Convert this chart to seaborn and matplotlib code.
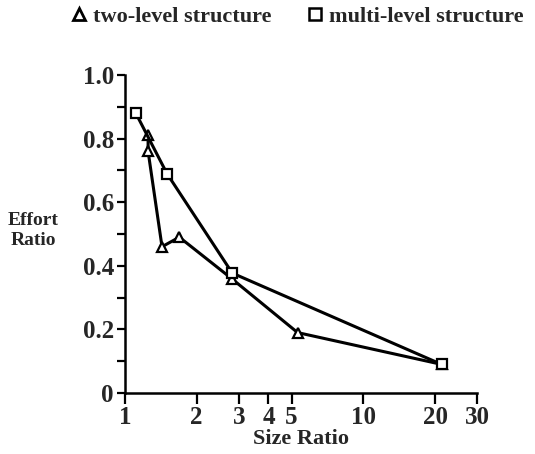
import matplotlib
matplotlib.use("Agg")
import matplotlib.pyplot as plt
from matplotlib.lines import Line2D
from matplotlib.ticker import FixedLocator, FixedFormatter, NullFormatter, MultipleLocator
import seaborn as sns
import pandas as pd

# Data
two_level_x = [1.25, 1.25, 1.43, 1.69, 2.80, 5.3, 21.3]
two_level_y = [0.81, 0.76, 0.46, 0.49, 0.36, 0.19, 0.09]
multi_level_x = [1.11, 1.50, 2.82, 21.3]
multi_level_y = [0.88, 0.69, 0.377, 0.09]
series_names = ["two-level structure", "multi-level structure"]
x_ticks = [1, 2, 3, 4, 5, 10, 20, 30]
y_ticks = [0, 0.2, 0.4, 0.6, 0.8, 1.0]
y_tick_labels = ["0", "0.2", "0.4", "0.6", "0.8", "1.0"]

df = pd.concat([
    pd.DataFrame({"x": two_level_x, "y": two_level_y, "structure": series_names[0]}),
    pd.DataFrame({"x": multi_level_x, "y": multi_level_y, "structure": series_names[1]}),
], ignore_index=True)

sns.set_style("ticks")
plt.rcParams["font.family"] = ["Liberation Serif", "DejaVu Serif"]
plt.rcParams["font.weight"] = "bold"

fig = plt.figure(figsize=(5.35, 4.54), dpi=100)
ax = fig.add_axes([125 / 535, 1 - 393 / 454, (477 - 125) / 535, (393 - 75) / 454])

sns.lineplot(data=df, x="x", y="y", hue="structure", style="structure",
             markers={series_names[0]: "^", series_names[1]: "s"}, dashes=False,
             palette={series_names[0]: "black", series_names[1]: "black"},
             sort=False, estimator=None, legend=False, ax=ax,
             linewidth=2.2, markersize=6.5, markerfacecolor="white",
             markeredgecolor="black", markeredgewidth=1.6)

ax.set_xscale("log")
ax.set_xlim(1, 30)
ax.set_ylim(0, 1.0)
ax.xaxis.set_major_locator(FixedLocator(x_ticks))
ax.xaxis.set_major_formatter(FixedFormatter([str(t) for t in x_ticks]))
ax.xaxis.set_minor_locator(FixedLocator([]))
ax.xaxis.set_minor_formatter(NullFormatter())
ax.yaxis.set_major_locator(FixedLocator(y_ticks))
ax.yaxis.set_major_formatter(FixedFormatter(y_tick_labels))
ax.yaxis.set_minor_locator(MultipleLocator(0.1))

for s in ["top", "right"]:
    ax.spines[s].set_visible(False)
for s in ["left", "bottom"]:
    ax.spines[s].set_linewidth(1.8)
    ax.spines[s].set_color("black")

ax.tick_params(axis="both", which="both", direction="out", width=1.6,
               color="black", labelsize=18)
ax.tick_params(axis="x", which="major", length=8, pad=1)
ax.tick_params(axis="y", which="both", length=6, pad=2)

ax.set_xlabel("Size Ratio", fontsize=16, fontweight="bold", labelpad=0)
ax.set_ylabel("Effort\nRatio", fontsize=14, fontweight="bold", rotation=0,
              ha="center", va="center", labelpad=0, linespacing=1.25)
ax.yaxis.set_label_coords(-0.261, 0.51)

handles = [
    Line2D([], [], linestyle="none", marker="^", markersize=9, markerfacecolor="white",
           markeredgecolor="black", markeredgewidth=2.0),
    Line2D([], [], linestyle="none", marker="s", markersize=8, markerfacecolor="white",
           markeredgecolor="black", markeredgewidth=1.8),
]
fig.legend(handles, series_names, loc="center", bbox_to_anchor=(0.557, 0.963),
           ncol=2, frameon=False, handlelength=0.6, handletextpad=0.3,
           columnspacing=1.7, prop={"size": 16, "weight": "bold"})

fig.savefig("out.png", dpi=100)
